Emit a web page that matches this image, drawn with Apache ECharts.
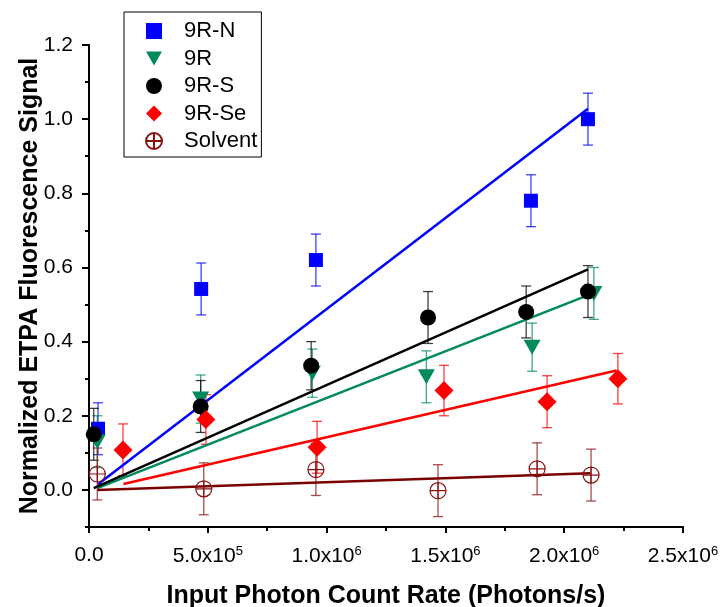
<!DOCTYPE html>
<html>
<head>
<meta charset="utf-8">
<script src="https://cdn.jsdelivr.net/npm/echarts@6/dist/echarts.min.js"></script>
<style>
html,body{margin:0;padding:0;background:#fff;}
#chart{width:723px;height:607px;}
</style>
</head>
<body>
<div id="chart"></div>
<script>
// ---- data ----
const seriesNames = ['9R-N', '9R', '9R-S', '9R-Se', 'Solvent'];

const nX = [3.8e4, 4.72e5, 9.55e5, 1.86e6, 2.10e6];
const nY = [0.165, 0.542, 0.62, 0.78, 1.0];
const nErr = [0.07, 0.07, 0.07, 0.07, 0.07];

const rX = [3.5e4, 4.7e5, 9.4e5, 1.42e6, 1.865e6, 2.125e6];
const rY = [0.13, 0.245, 0.315, 0.305, 0.385, 0.53];
const rErr = [0.07, 0.065, 0.065, 0.07, 0.065, 0.07];

const sX = [2.0e4, 4.7e5, 9.35e5, 1.427e6, 1.84e6, 2.10e6];
const sY = [0.15, 0.225, 0.335, 0.465, 0.48, 0.535];
const sErr = [0.07, 0.07, 0.065, 0.07, 0.07, 0.07];

const seX = [1.43e5, 4.92e5, 9.6e5, 1.494e6, 1.928e6, 2.226e6];
const seY = [0.108, 0.19, 0.115, 0.268, 0.238, 0.3];
const seErr = [0.07, 0.067, 0.07, 0.068, 0.07, 0.068];

const solX = [3.5e4, 4.83e5, 9.55e5, 1.469e6, 1.886e6, 2.113e6];
const solY = [0.043, 0.003, 0.055, -0.002, 0.057, 0.04];
const solErr = [0.07, 0.07, 0.07, 0.07, 0.07, 0.07];

// linear fits: [start, end]
const fitNX = [3.8e4, 2.10e6];   const fitNY = [0.015, 1.028];
const fitRX = [3.5e4, 2.12e6];   const fitRY = [0.005, 0.53];
const fitSX = [2.0e4, 2.10e6];   const fitSY = [0.005, 0.595];
const fitSeX = [1.45e5, 2.22e6]; const fitSeY = [0.016, 0.322];
const fitSolX = [3.5e4, 2.11e6]; const fitSolY = [0.0, 0.045];

// ticks
const xTickValues = [0, 5e5, 1e6, 1.5e6, 2e6, 2.5e6];
const xTickMant = ['0.0', '5.0', '1.0', '1.5', '2.0', '2.5'];
const xTickExp = ['', '5', '6', '6', '6', '6'];
const yTickValues = [0, 0.2, 0.4, 0.6, 0.8, 1.0, 1.2];
const yMinorValues = [-0.1, 0.1, 0.3, 0.5, 0.7, 0.9, 1.1];

// ---- build ----
const colors = {
  n: '#0000ff', r: '#008a5e', s: '#000000', se: '#ff0000', sol: '#8b1010', solLine: '#7a0000'
};
const FONT = 'Liberation Sans, Arial, sans-serif';

function zip(xs, ys) { return xs.map((x, i) => [x, ys[i]]); }
function zip3(xs, ys, es) { return xs.map((x, i) => [x, ys[i], es[i]]); }

function errSeries(xs, ys, es, color) {
  return {
    type: 'custom',
    silent: true,
    z: 1,
    data: zip3(xs, ys, es),
    renderItem: function (params, api) {
      const x = api.value(0), y = api.value(1), e = api.value(2);
      const top = api.coord([x, y + e]);
      const bot = api.coord([x, y - e]);
      const hw = 5;
      const style = { stroke: color, lineWidth: 1.3, opacity: 0.75 };
      return {
        type: 'group',
        children: [
          { type: 'line', shape: { x1: top[0], y1: top[1], x2: bot[0], y2: bot[1] }, style: style },
          { type: 'line', shape: { x1: top[0] - hw, y1: top[1], x2: top[0] + hw, y2: top[1] }, style: style },
          { type: 'line', shape: { x1: bot[0] - hw, y1: bot[1], x2: bot[0] + hw, y2: bot[1] }, style: style }
        ]
      };
    }
  };
}

function fitSeries(xs, ys, color) {
  return {
    type: 'line',
    silent: true,
    z: 2,
    data: zip(xs, ys),
    showSymbol: false,
    symbol: 'none',
    lineStyle: { color: color, width: 2.5 },
    animation: false
  };
}

const triDown = 'path://M0,0L10,0L5,8.66Z';
const circPlus = 'path://M10,0A10,10,0,1,1,-10,0A10,10,0,1,1,10,0ZM-10,0L10,0M0,-10L0,10';

const option = {
  animation: false,
  grid: { left: 89, right: 40, top: 45, bottom: 80, containLabel: false, outerBoundsMode: 'none' },
  legend: {
    left: 124, top: 12,
    orient: 'vertical',
    data: seriesNames,
    itemWidth: 16, itemHeight: 16, itemGap: 5.5,
    padding: [8, 4, 5, 21],
    borderColor: '#000', borderWidth: 1,
    textStyle: { fontFamily: FONT, fontSize: 22, lineHeight: 22, color: '#000', padding: [0, 0, 0, 17] }
  },
  xAxis: {
    type: 'value', min: 0, max: 2.5e6, interval: 5e5,
    name: 'Input Photon Count Rate (Photons/s)',
    nameLocation: 'middle', nameGap: 57,
    nameTextStyle: { fontFamily: FONT, fontSize: 25, fontWeight: 'bold', color: '#000' },
    axisLine: { show: true, onZero: false, lineStyle: { color: '#000', width: 2 } },
    axisTick: { show: true, inside: false, length: 6, lineStyle: { color: '#000', width: 2 } },
    minorTick: { show: true, splitNumber: 2, length: 4, lineStyle: { color: '#000', width: 2 } },
    splitLine: { show: false },
    axisLabel: {
      margin: 18,
      color: '#000',
      fontFamily: FONT,
      fontSize: 21,
      formatter: function (v) {
        const i = xTickValues.findIndex(t => Math.abs(t - v) < 1);
        if (i < 0) return '';
        if (!xTickExp[i]) return '{m|' + xTickMant[i] + '}';
        return '{m|' + xTickMant[i] + 'x10}{s|' + xTickExp[i] + '}';
      },
      rich: {
        m: { fontFamily: FONT, fontSize: 21, color: '#000' },
        s: { fontFamily: FONT, fontSize: 13, color: '#000', padding: [0, 0, 10, 0] }
      }
    }
  },
  yAxis: [
    {
      type: 'value', min: -0.1, max: 1.2,
      name: 'Normalized ETPA Fluorescence Signal',
      nameLocation: 'middle', nameGap: 46, nameRotate: 90, nameMoveOverlap: false,
      nameTextStyle: { fontFamily: FONT, fontSize: 25, fontWeight: 'bold', color: '#000' },
      axisLine: { show: true, onZero: false, lineStyle: { color: '#000', width: 2 } },
      axisTick: { show: true, inside: false, length: 7, customValues: yTickValues, lineStyle: { color: '#000', width: 2 } },
      splitLine: { show: false },
      axisLabel: {
        margin: 16, color: '#000', fontFamily: FONT, fontSize: 21,
        customValues: yTickValues,
        formatter: function (v) { return v.toFixed(1); }
      }
    },
    {
      type: 'value', min: -0.1, max: 1.2, position: 'left',
      axisLine: { show: false },
      axisTick: { show: true, inside: false, length: 4, customValues: yMinorValues, lineStyle: { color: '#000', width: 2 } },
      splitLine: { show: false },
      axisLabel: { show: false }
    }
  ],
  series: [
    errSeries(nX, nY, nErr, colors.n),
    errSeries(rX, rY, rErr, colors.r),
    errSeries(sX, sY, sErr, colors.s),
    errSeries(seX, seY, seErr, colors.se),
    errSeries(solX, solY, solErr, colors.sol),
    fitSeries(fitNX, fitNY, colors.n),
    fitSeries(fitRX, fitRY, colors.r),
    fitSeries(fitSX, fitSY, colors.s),
    fitSeries(fitSeX, fitSeY, colors.se),
    fitSeries(fitSolX, fitSolY, colors.solLine),
    { name: '9R-N', type: 'scatter', z: 3, symbol: 'rect', symbolSize: 14,
      itemStyle: { color: colors.n, opacity: 1 }, data: zip(nX, nY) },
    { name: '9R', type: 'scatter', z: 3, symbol: triDown, symbolSize: [17, 15],
      itemStyle: { color: colors.r, opacity: 1 }, data: zip(rX, rY) },
    { name: '9R-S', type: 'scatter', z: 3, symbol: 'circle', symbolSize: 16,
      itemStyle: { color: colors.s, opacity: 1 }, data: zip(sX, sY) },
    { name: '9R-Se', type: 'scatter', z: 3, symbol: 'diamond', symbolSize: 19,
      itemStyle: { color: colors.se, opacity: 1 }, data: zip(seX, seY) },
    { name: 'Solvent', type: 'scatter', z: 3, symbol: circPlus, symbolSize: 16,
      itemStyle: { color: 'transparent', borderColor: colors.sol, borderWidth: 1.2, opacity: 1 }, data: zip(solX, solY) }
  ]
};

const chart = echarts.init(document.getElementById('chart'), null, { renderer: 'canvas' });
chart.setOption(option);
</script>
</body>
</html>
